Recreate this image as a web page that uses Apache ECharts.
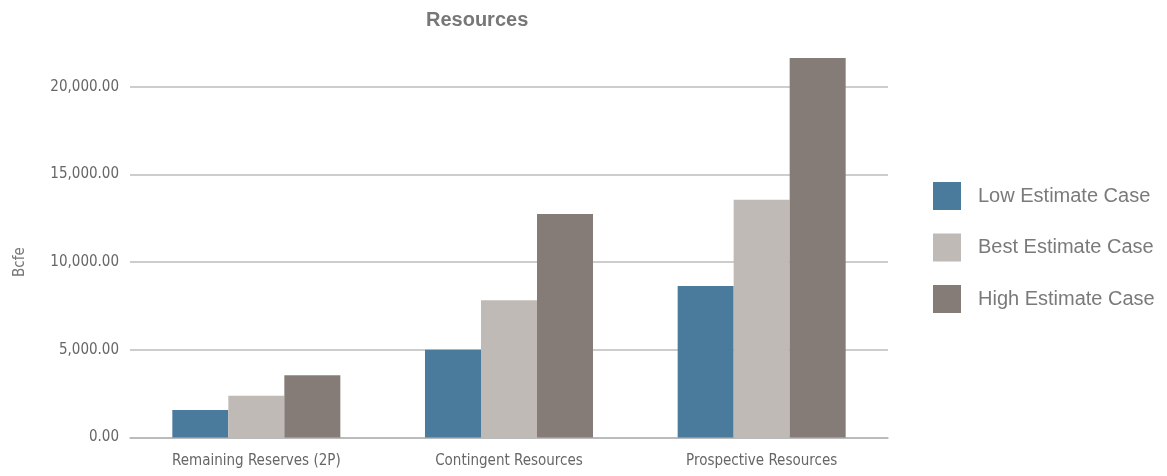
<!DOCTYPE html>
<html>
<head>
<meta charset="utf-8">
<script src="https://cdn.jsdelivr.net/npm/echarts@6/dist/echarts.min.js"></script>
<style>
  html, body { margin: 0; padding: 0; background: #fff; }
  #chart { width: 1167px; height: 476px; }
</style>
</head>
<body>
<div id="chart"></div>
<script>
// Resource volumes (Bcfe) by category and estimate case
const categories = ['Remaining Reserves (2P)', 'Contingent Resources', 'Prospective Resources'];
const lowEstimate = [1570, 5000, 8640];
const bestEstimate = [2380, 7820, 13560];
const highEstimate = [3550, 12740, 21640];
const seriesNames = ['Low Estimate Case', 'Best Estimate Case', 'High Estimate Case'];
const seriesColors = ['#4a7b9d', '#bfbab6', '#867c77'];
const yTicks = { min: 0, max: 20000, interval: 5000 };

const narrowFont = "'DejaVu Sans Condensed', Roboto, sans-serif";

const chart = echarts.init(document.getElementById('chart'));
const values = [lowEstimate, bestEstimate, highEstimate];

chart.setOption({
  animation: false,
  title: {
    text: 'Resources',
    left: 421,
    top: 5,
    textStyle: { fontFamily: 'Liberation Sans', fontWeight: 'bold', fontSize: 20, color: '#777' }
  },
  legend: {
    orient: 'vertical',
    left: 928,
    top: 177,
    itemWidth: 28,
    itemHeight: 28,
    itemGap: 23.5,
    icon: 'rect',
    textStyle: { fontFamily: 'Liberation Sans', fontSize: 20, color: '#7a7a7a', padding: [0, 0, 0, 12] },
    data: seriesNames
  },
  grid: { left: 130, right: 279, top: 86.7, bottom: 38.5, containLabel: false },
  xAxis: {
    type: 'category',
    data: categories,
    axisLine: { lineStyle: { color: '#b5b5b5', width: 1.5 } },
    axisTick: { show: false },
    axisLabel: { fontFamily: narrowFont, fontSize: 15, color: '#666', margin: 16 }
  },
  yAxis: {
    type: 'value',
    min: yTicks.min,
    max: yTicks.max,
    interval: yTicks.interval,
    name: 'Bcfe',
    nameLocation: 'middle',
    nameGap: 102,
    nameTextStyle: { fontFamily: narrowFont, fontSize: 15, color: '#777' },
    axisLine: { show: false },
    axisTick: { show: false },
    splitLine: { lineStyle: { color: '#bdbdbd', width: 1.5 } },
    axisLabel: {
      fontFamily: narrowFont,
      fontSize: 15,
      color: '#666',
      margin: 11,
      formatter: v => v.toLocaleString('en-US', { minimumFractionDigits: 2, maximumFractionDigits: 2 })
    }
  },
  series: seriesNames.map((name, i) => ({
    name,
    type: 'bar',
    data: values[i],
    clip: false,
    barGap: '0%',
    barCategoryGap: '33.5%',
    itemStyle: { color: seriesColors[i] }
  }))
});
</script>
</body>
</html>
